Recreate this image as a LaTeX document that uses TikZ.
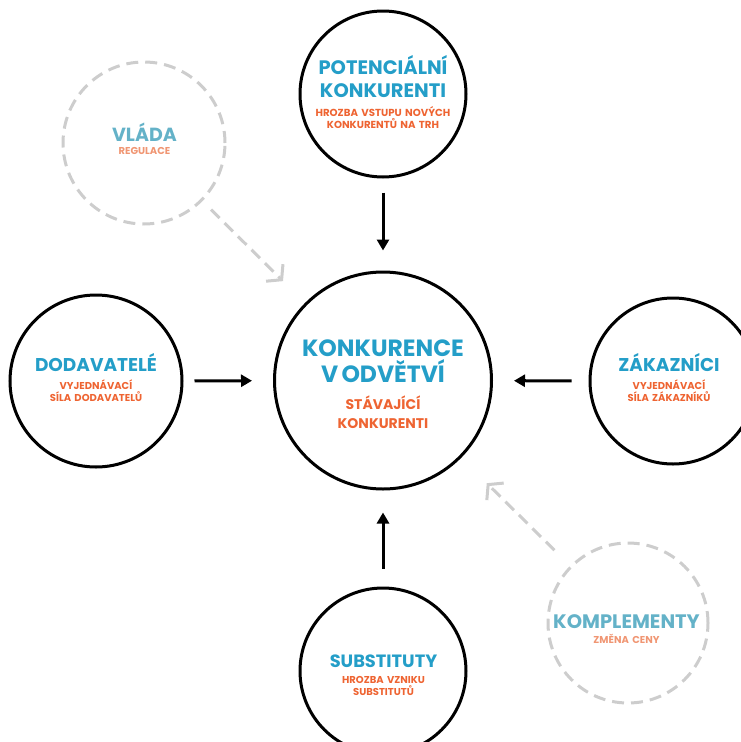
\documentclass[tikz,border=0pt]{standalone}
\usepackage{fontspec}
\setmainfont{Poppins}
\usetikzlibrary{arrows.meta}
\setlength{\parindent}{0pt}
\definecolor{forceblue}{RGB}{36,158,200}
\definecolor{forceorange}{RGB}{238,100,50}
\definecolor{softblue}{RGB}{100,178,200}
\definecolor{softorange}{RGB}{240,150,115}
\definecolor{dashgray}{RGB}{205,205,205}
\newcommand{\headtext}[4][forceblue]{{\fontsize{#2}{#3}\selectfont\bfseries\color{#1}#4\par}}
\newcommand{\subtext}[4][forceorange]{{\fontsize{#2}{#3}\selectfont\bfseries\color{#1}#4\par}}
\tikzset{force/.style={circle,draw=black,line width=3pt,inner sep=0pt},
  outside/.style={circle,draw=dashgray,line width=3pt,dash pattern=on 12pt off 7pt,inner sep=0pt},
  caption/.style={text width=190pt,align=center,inner sep=0pt},
  push/.style={line width=3pt,-{Triangle[length=11pt,width=12pt]}},
  pull/.style={dashgray,line width=3pt,dash pattern=on 12pt off 7pt,-{Straight Barb[length=10pt,width=24pt]}}}

\begin{document}
\begin{tikzpicture}[x=1pt,y=-1pt]
    \clip (0,0) rectangle (741,742);
    \node[force,minimum size=217pt] (rivalry) at (383,380.5) {};
    \node[force,minimum size=166pt] (entrants) at (383,94) {};
    \node[force,minimum size=172pt] (suppliers) at (96,381) {};
    \node[force,minimum size=166pt] (buyers) at (673,381) {};
    \node[force,minimum size=166pt] (substitutes) at (383,671) {};
    \node[outside,minimum size=162pt] (government) at (144,143) {};
    \node[outside,minimum size=160pt] (complements) at (628,623) {};
    \node[caption] (rivalry-text) at (383,384.5) {\headtext{23.5}{26}{KONKURENCE\\V ODVĚTVÍ}\vspace{8pt}\subtext{14}{19}{STÁVAJÍCÍ\\KONKURENTI}};
    \node[caption] (entrants-text) at (383,92) {\headtext{19.5}{23}{POTENCIÁLNÍ\\KONKURENTI}\vspace{7pt}\subtext{10.2}{12}{HROZBA VSTUPU NOVÝCH\\KONKURENTŮ NA TRH}};
    \node[caption] (suppliers-text) at (96,378) {\headtext{18.5}{23}{DODAVATELÉ}\vspace{6pt}\subtext{10}{12}{VYJEDNÁVACÍ\\SÍLA DODAVATELŮ}};
    \node[caption] (buyers-text) at (669,378) {\headtext{18.5}{23}{ZÁKAZNÍCI}\vspace{6pt}\subtext{10}{12}{VYJEDNÁVACÍ\\SÍLA ZÁKAZNÍKŮ}};
    \node[caption] (substitutes-text) at (383.5,675) {\headtext{17.8}{23}{SUBSTITUTY}\vspace{4pt}\subtext{10}{12}{HROZBA VZNIKU\\SUBSTITUTŮ}};
    \node[caption] (government-text) at (144.5,139) {\headtext[softblue]{19}{23}{VLÁDA}\vspace{1pt}\subtext[softorange]{10}{12}{REGULACE}};
    \node[caption] (complements-text) at (626.5,629) {\headtext[softblue]{19.5}{23}{KOMPLEMENTY}\vspace{3pt}\subtext[softorange]{10}{12}{ZMĚNA CENY}};
    \draw[push,shorten <=14pt,shorten >=20pt] (entrants) -- (rivalry);
    \draw[push,shorten <=11pt,shorten >=21pt] (suppliers) -- (rivalry);
    \draw[push,shorten <=17pt,shorten >=21pt] (buyers) -- (rivalry);
    \draw[push,shorten <=18pt,shorten >=22pt] (substitutes) -- (rivalry);
    \draw[pull,shorten <=12pt,shorten >=31pt] (government) -- (rivalry);
    \draw[pull,shorten <=22pt,shorten >=36pt] (complements) -- (rivalry);
\end{tikzpicture}
\end{document}
